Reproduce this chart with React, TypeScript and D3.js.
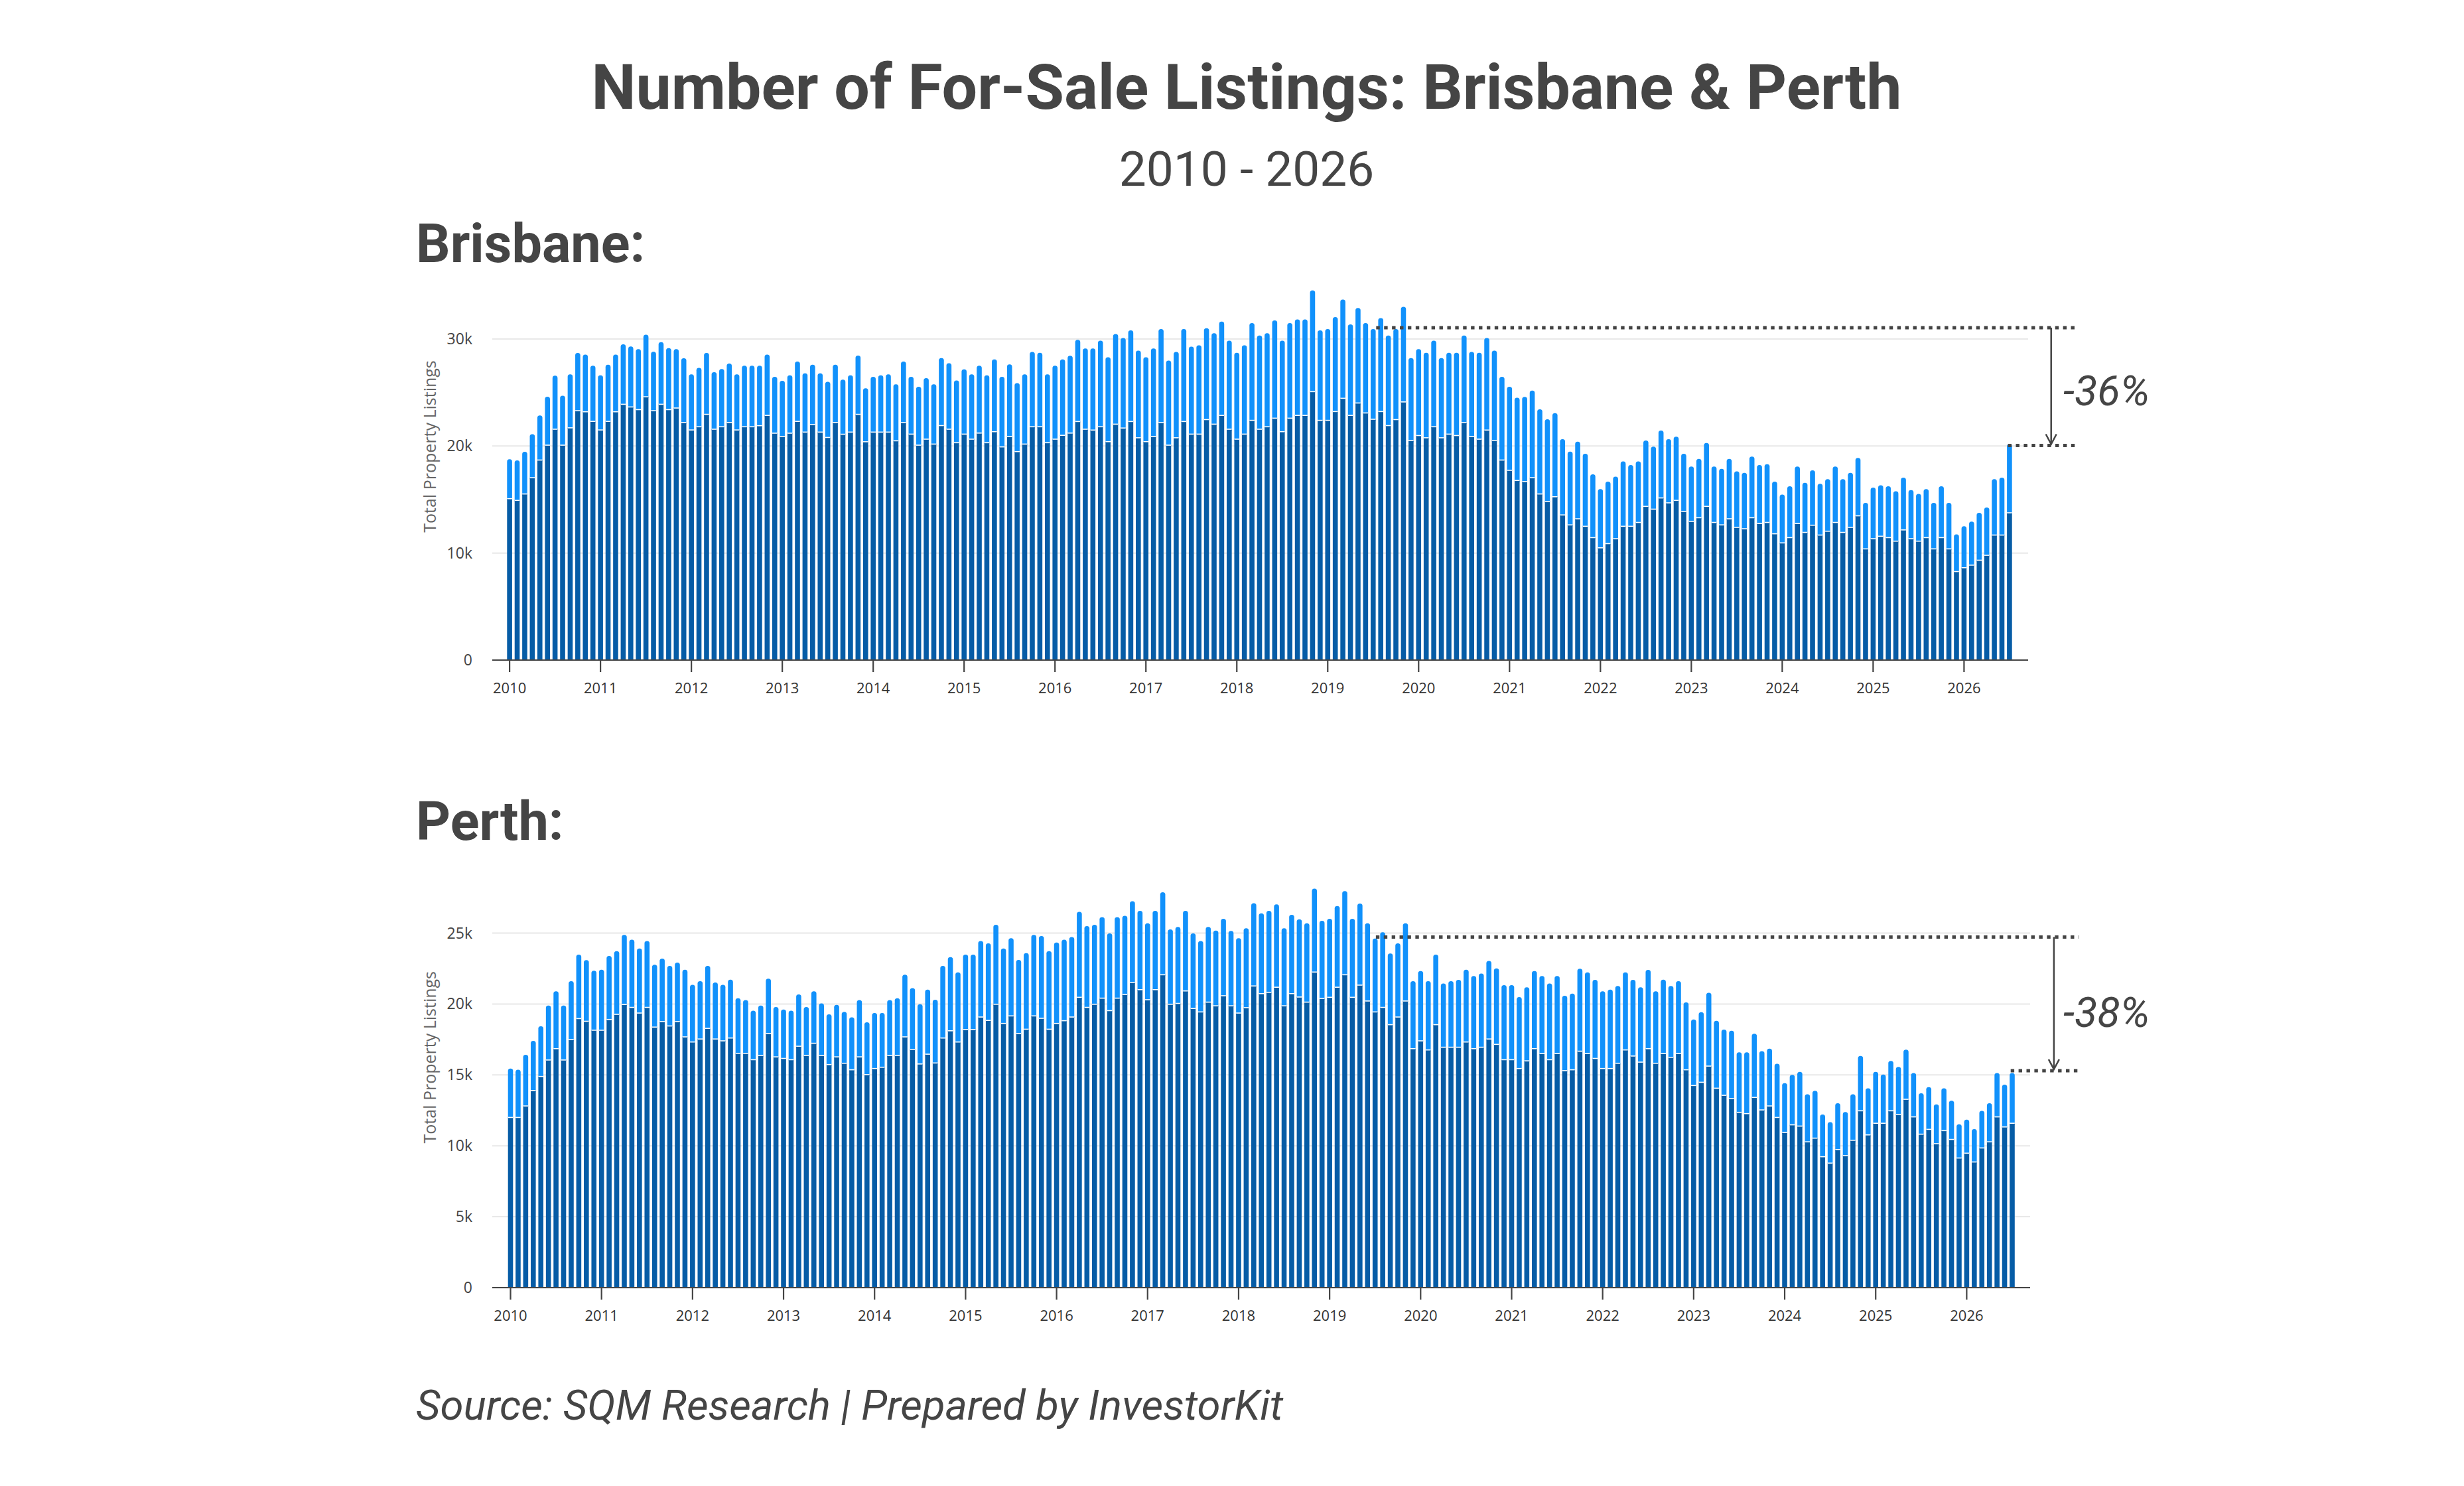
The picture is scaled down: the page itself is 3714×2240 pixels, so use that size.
import React from 'react';
import * as d3 from 'd3';

const W = 3714;
const H = 2240;

// monthly observations, Jan 2010 .. Jul 2026
const months = d3.timeMonth.range(new Date(2010, 0, 1), new Date(2026, 7, 1));
const yearLabels = ['2010', '2011', '2012', '2013', '2014', '2015', '2016', '2017', '2018',
  '2019', '2020', '2021', '2022', '2023', '2024', '2025', '2026'];

// values in thousands of listings
const brisbaneTotal = [
  18.76, 18.66, 19.46, 21.1, 22.86, 24.6, 26.57, 24.7, 26.7, 28.7, 28.55, 27.5,
  26.6, 27.6, 28.55, 29.5, 29.3, 29.05, 30.4, 28.8, 29.7, 29.15, 29.05, 28.2,
  26.7, 27.3, 28.7, 26.9, 27.2, 27.7, 26.7, 27.5, 27.5, 27.5, 28.55, 26.47,
  26.1, 26.6, 27.9, 26.8, 27.6, 26.8, 26.0, 27.6, 26.2, 26.6, 28.45, 25.4,
  26.47, 26.6, 26.7, 25.77, 27.89, 26.47, 25.54, 26.34, 25.77, 28.22, 27.73, 26.13,
  27.16, 26.7, 27.5, 26.6, 28.09, 26.47, 27.63, 25.88, 26.7, 28.79, 28.71, 26.7,
  27.5, 28.09, 28.43, 29.92, 29.12, 29.12, 29.85, 28.3, 30.46, 30.1, 30.8, 28.92,
  28.3, 29.12, 30.93, 27.99, 28.79, 30.93, 29.28, 29.41, 31.0, 30.54, 31.62, 29.85,
  28.71, 29.41, 31.49, 30.33, 30.54, 31.73, 29.85, 31.49, 31.83, 31.83, 34.54, 30.8,
  30.93, 32.04, 33.69, 31.37, 32.89, 31.49, 30.93, 31.96, 30.33, 30.93, 33.01, 28.22,
  29.05, 28.71, 29.85, 28.22, 28.71, 28.71, 30.33, 28.79, 28.71, 30.1, 28.92, 26.47,
  25.54, 24.51, 24.59, 25.18, 23.43, 22.5, 23.07, 20.64, 19.48, 20.41, 19.28, 17.35,
  15.98, 16.68, 17.14, 18.56, 18.22, 18.56, 20.52, 19.95, 21.44, 20.64, 20.88, 19.28,
  18.09, 18.79, 20.28, 18.09, 17.86, 18.79, 17.63, 17.5, 19.02, 18.22, 18.3, 16.68,
  15.46, 16.24, 18.09, 16.57, 17.73, 16.47, 16.91, 18.09, 16.91, 17.5, 18.89, 14.69,
  16.11, 16.34, 16.24, 15.77, 17.04, 15.88, 15.52, 15.98, 14.69, 16.24, 14.69, 11.75,
  12.5, 12.94, 13.76, 14.25, 16.91, 17.04, 20.18,
];
const brisbaneLongTerm = [
  15.08, 14.92, 15.52, 17.04, 18.69, 20.08, 21.57, 20.08, 21.7, 23.3, 23.2, 22.3,
  21.5, 22.3, 23.2, 23.9, 23.65, 23.4, 24.6, 23.3, 23.9, 23.4, 23.55, 22.2,
  21.5, 21.8, 22.96, 21.57, 21.8, 22.2, 21.5, 21.8, 21.8, 21.9, 22.86, 21.2,
  20.9, 21.2, 22.3, 21.3, 22.0, 21.3, 20.8, 22.2, 21.1, 21.3, 22.96, 20.4,
  21.3, 21.3, 21.3, 20.49, 22.19, 21.11, 20.08, 20.64, 20.18, 21.91, 21.57, 20.31,
  21.11, 20.64, 21.21, 20.31, 21.34, 19.92, 20.88, 19.48, 20.18, 21.8, 21.8, 20.31,
  20.64, 21.0, 21.21, 22.29, 21.57, 21.49, 21.8, 20.41, 22.04, 21.68, 22.29, 20.77,
  20.41, 20.88, 22.19, 20.08, 20.77, 22.29, 21.11, 21.11, 22.47, 22.04, 22.86, 21.57,
  20.64, 21.11, 22.4, 21.57, 21.8, 22.6, 21.34, 22.6, 22.86, 22.86, 25.08, 22.4,
  22.4, 23.22, 24.46, 22.86, 24.02, 23.09, 22.5, 23.22, 21.91, 22.47, 24.12, 20.52,
  20.98, 20.77, 21.8, 20.77, 21.11, 20.98, 22.19, 20.88, 20.64, 21.49, 20.52, 18.69,
  17.73, 16.78, 16.68, 17.04, 15.52, 14.82, 15.26, 13.56, 12.63, 13.2, 12.5, 11.44,
  10.49, 10.88, 11.34, 12.5, 12.5, 12.86, 14.36, 14.1, 15.15, 14.69, 14.92, 13.89,
  12.96, 13.3, 14.36, 12.86, 12.63, 13.2, 12.4, 12.27, 13.3, 12.76, 12.86, 11.8,
  10.95, 11.44, 12.76, 11.93, 12.6, 11.68, 12.04, 12.86, 11.93, 12.4, 13.48, 10.39,
  11.34, 11.57, 11.44, 11.11, 12.16, 11.34, 11.11, 11.44, 10.39, 11.44, 10.39, 8.27,
  8.63, 8.87, 9.33, 9.79, 11.68, 11.68, 13.76,
];
const perthTotal = [
  15.45, 15.36, 16.42, 17.4, 18.43, 19.89, 20.9, 19.89, 21.61, 23.48, 23.09, 22.34,
  22.42, 23.39, 23.73, 24.87, 24.53, 23.91, 24.44, 22.77, 23.2, 22.68, 22.92, 22.42,
  21.35, 21.61, 22.68, 21.52, 21.35, 21.72, 20.41, 20.28, 19.53, 19.89, 21.78, 19.79,
  19.61, 19.53, 20.67, 19.79, 20.9, 20.04, 19.27, 19.94, 19.44, 19.06, 20.28, 18.71,
  19.36, 19.36, 20.28, 20.41, 22.06, 21.12, 19.98, 21.01, 20.3, 22.68, 23.3, 22.23,
  23.48, 23.48, 24.44, 24.27, 25.58, 23.91, 24.64, 23.11, 23.58, 24.87, 24.79, 23.73,
  24.33, 24.53, 24.72, 26.5, 25.49, 25.58, 26.12, 24.98, 26.12, 26.22, 27.25, 26.57,
  25.69, 26.57, 27.88, 25.26, 25.43, 26.57, 24.98, 24.44, 25.43, 25.17, 26.01, 25.15,
  24.64, 25.34, 27.1, 26.39, 26.57, 27.02, 25.34, 26.29, 25.97, 25.69, 28.13, 25.86,
  26.01, 26.91, 27.96, 26.01, 27.08, 25.69, 24.61, 25.06, 23.56, 24.27, 25.69, 21.61,
  22.32, 21.61, 23.48, 21.44, 21.61, 21.7, 22.42, 21.97, 22.15, 23.03, 22.51, 21.33,
  21.33, 20.49, 21.18, 22.32, 21.97, 21.44, 21.97, 20.58, 20.73, 22.49, 22.23, 21.7,
  20.9, 21.01, 21.27, 22.23, 21.7, 21.18, 22.4, 20.9, 21.72, 21.27, 21.61, 20.11,
  18.91, 19.42, 20.79, 18.82, 18.2, 18.11, 16.59, 16.59, 17.9, 16.67, 16.85, 15.79,
  14.42, 15.0, 15.21, 13.63, 13.88, 12.21, 11.67, 13.0, 12.38, 13.63, 16.33, 14.06,
  15.21, 15.02, 15.99, 15.56, 16.78, 15.13, 13.71, 14.14, 12.92, 14.06, 13.18, 11.52,
  11.85, 11.18, 12.47, 13.0, 15.13, 14.31, 15.13,
];
const perthLongTerm = [
  12.0, 12.0, 12.81, 13.9, 14.89, 16.05, 16.85, 16.05, 17.49, 18.97, 18.78, 18.15,
  18.15, 18.91, 19.27, 19.96, 19.76, 19.36, 19.76, 18.37, 18.76, 18.45, 18.76, 17.68,
  17.32, 17.53, 18.28, 17.53, 17.4, 17.6, 16.52, 16.52, 16.07, 16.37, 17.92, 16.27,
  16.16, 16.07, 17.02, 16.37, 17.23, 16.37, 15.73, 16.27, 15.82, 15.36, 16.27, 15.02,
  15.45, 15.54, 16.37, 16.37, 17.68, 16.8, 15.77, 16.46, 15.84, 17.6, 18.11, 17.32,
  18.2, 18.2, 19.08, 18.84, 19.98, 18.63, 19.16, 17.92, 18.22, 19.16, 18.99, 18.22,
  18.63, 18.82, 19.08, 20.47, 19.76, 19.98, 20.41, 19.53, 20.41, 20.67, 21.52, 21.01,
  20.3, 21.01, 22.06, 19.98, 20.04, 20.92, 19.68, 19.44, 20.13, 19.87, 20.58, 19.87,
  19.36, 19.74, 21.27, 20.73, 20.82, 21.18, 19.87, 20.73, 20.49, 20.13, 22.25, 20.39,
  20.47, 21.18, 22.06, 20.47, 21.33, 20.21, 19.44, 19.76, 18.54, 19.08, 20.21, 16.85,
  17.4, 16.76, 18.54, 16.95, 16.95, 16.95, 17.32, 16.85, 16.95, 17.53, 17.15, 16.07,
  16.07, 15.45, 15.99, 16.85, 16.5, 16.07, 16.5, 15.3, 15.36, 16.67, 16.5, 16.16,
  15.45, 15.45, 15.82, 16.76, 16.33, 15.9, 16.85, 15.82, 16.5, 16.24, 16.5, 15.36,
  14.25, 14.48, 15.62, 14.06, 13.56, 13.33, 12.36, 12.27, 13.41, 12.53, 12.81, 12.0,
  10.94, 11.48, 11.39, 10.28, 10.54, 9.23, 8.78, 9.74, 9.31, 10.39, 12.47, 10.77,
  11.59, 11.59, 12.47, 12.21, 13.28, 12.04, 10.82, 11.16, 10.15, 11.07, 10.45, 9.14,
  9.48, 8.86, 9.85, 10.28, 12.04, 11.33, 11.59,
];

const brisbaneYTicks = [0, 10, 20, 30];
const perthYTicks = [0, 5, 10, 15, 20, 25];

// reference levels for the drop annotation (thousands)
const brisbaneLevels = [31.06, 20.05];
const perthLevels = [24.72, 15.3];

const TEXT = '#454545';
const DARK = '#065ca6';
const LIGHT = '#1191fb';
const AXIS_FONT = "'Open Sans', sans-serif";

interface PanelProps {
  total: number[];
  longTerm: number[];
  ticks: number[];
  tickTop: number;
  y0: number;
  yTopPx: number;
  x0: number;
  x1: number;
  gridRight: number;
  title: string;
  titleY: number;
  levels: number[];
  pct: string;
  pctY: number;
  levelStart: number;
}

function Panel(p: PanelProps) {
  const x = d3.scaleLinear().domain([0, 192]).range([p.x0, p.x1]);
  const y = d3.scaleLinear().domain([0, p.tickTop]).range([p.y0, p.yTopPx]);
  const rows = months.map((m, i) => ({ long: p.longTerm[i], rest: p.total[i] - p.longTerm[i] }));
  const stacked = d3.stack<any>().keys(['long', 'rest'])(rows);
  const bw = 7.6;
  const gridLeft = 742;
  const yUp = y(p.levels[0]);
  const yDown = y(p.levels[1]);
  const lineEnd = x(206.8);
  const arrowX = x(203.5);

  return (
    <g>
      <text x={627} y={p.titleY} fontFamily="Roboto" fontWeight={700} fontSize={81} fill={TEXT}>{p.title}</text>

      {p.ticks.map(t => (
        <g key={t}>
          {t > 0 && <line x1={gridLeft} x2={p.gridRight} y1={y(t)} y2={y(t)} stroke="#e8e8e8" strokeWidth={2} />}
          <text x={712} y={y(t)} dy="0.35em" textAnchor="end" fontFamily={AXIS_FONT} fontSize={23} fill="#444">
            {t === 0 ? '0' : `${t}k`}
          </text>
        </g>
      ))}
      <text transform={`translate(657,${(p.y0 + p.yTopPx) / 2 - 80}) rotate(-90)`} textAnchor="middle"
        fontFamily={AXIS_FONT} fontSize={25} fill="#666">Total Property Listings</text>

      {stacked[1].map((d, i) => (
        <rect key={'l' + i} x={x(i) - bw / 2} y={y(d[1])} width={bw} height={y(d[0]) - y(d[1]) + 4}
          rx={3.6} fill={LIGHT} />
      ))}
      {stacked[0].map((d, i) => (
        <g key={'d' + i}>
          <rect x={x(i) - bw / 2} y={y(d[1])} width={bw} height={y(d[0]) - y(d[1])} fill={DARK} />
          <line x1={x(i) - bw / 2} x2={x(i) + bw / 2} y1={y(d[1])} y2={y(d[1])} stroke="#ffffff" strokeWidth={1.6} />
        </g>
      ))}

      <line x1={gridLeft} x2={p.gridRight} y1={p.y0} y2={p.y0} stroke="#444" strokeWidth={2} />
      {yearLabels.map((lab, k) => (
        <g key={lab} transform={`translate(${x(k * 12)},${p.y0})`}>
          <line y1={0} y2={18} stroke="#444" strokeWidth={2.2} />
          <text y={50} textAnchor="middle" fontFamily={AXIS_FONT} fontSize={22} fill="#333">{lab}</text>
        </g>
      ))}

      <line x1={x(p.levelStart)} x2={lineEnd} y1={yUp} y2={yUp} stroke="#444" strokeWidth={5} strokeDasharray="5.4 6.5" />
      <line x1={x(197.8)} x2={lineEnd} y1={yDown} y2={yDown} stroke="#444" strokeWidth={5} strokeDasharray="5.4 6.5" />
      <line x1={arrowX} x2={arrowX} y1={yUp} y2={yDown - 2} stroke="#444" strokeWidth={2.5} />
      <path d={`M${arrowX - 8},${yDown - 17} L${arrowX},${yDown - 2} L${arrowX + 8},${yDown - 17}`}
        fill="none" stroke="#444" strokeWidth={2.5} />
      <text x={3110} y={p.pctY} fontFamily="Roboto" fontStyle="italic" fontSize={63} fill={TEXT}>{p.pct}</text>
    </g>
  );
}

export default function App() {
  return (
    <svg width={W} height={H} viewBox={`0 0 ${W} ${H}`}
      style={{ position: 'absolute', left: 0, top: 0, background: '#ffffff' }}>
      <rect width={W} height={H} fill="#ffffff" />
      <text x={1879} y={164} textAnchor="middle" fontFamily="Roboto" fontWeight={700} fontSize={95} fill={TEXT}>
        Number of For-Sale Listings: Brisbane &amp; Perth
      </text>
      <text x={1879} y={280} textAnchor="middle" fontFamily="Roboto" fontSize={73} fill={TEXT}>2010 - 2026</text>

      <Panel total={brisbaneTotal} longTerm={brisbaneLongTerm} ticks={brisbaneYTicks} tickTop={30}
        y0={995} yTopPx={511} x0={768.1} x1={2960.4} gridRight={3057}
        title="Brisbane:" titleY={395} levels={brisbaneLevels} pct="-36%" pctY={611} levelStart={114.4} />

      <Panel total={perthTotal} longTerm={perthLongTerm} ticks={perthYTicks} tickTop={25}
        y0={1941} yTopPx={1406.5} x0={769.5} x1={2964.4} gridRight={3060}
        title="Perth:" titleY={1266} levels={perthLevels} pct="-38%" pctY={1548} levelStart={114.1} />

      <text x={627} y={2140} fontFamily="Roboto" fontStyle="italic" fontSize={63.5} fill={TEXT}>
        Source: SQM Research | Prepared by InvestorKit
      </text>
    </svg>
  );
}
